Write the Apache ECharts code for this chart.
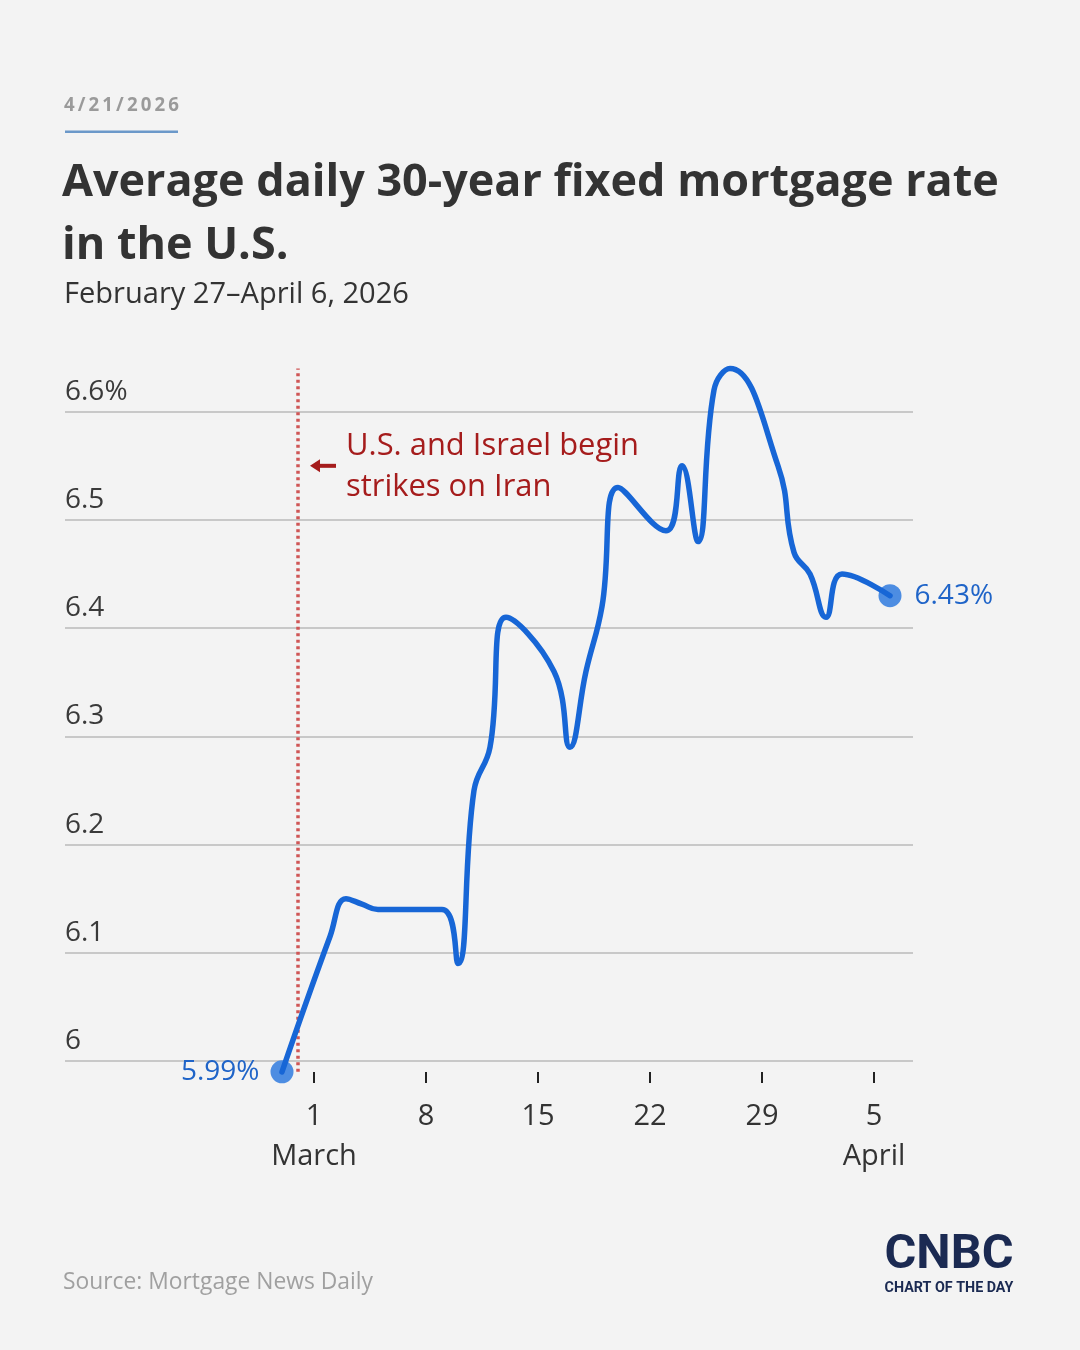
<!DOCTYPE html>
<html><head><meta charset="utf-8">
<script src="https://cdn.jsdelivr.net/npm/echarts@6/dist/echarts.min.js"></script>
<style>html,body{margin:0;padding:0;background:#f3f3f3;}#c{width:1080px;height:1350px;}</style>
</head><body><div id="c"></div>
<script>
// ---- data ----
const dates = ['2026-02-27','2026-03-02','2026-03-03','2026-03-04','2026-03-05','2026-03-06',
  '2026-03-09','2026-03-10','2026-03-11','2026-03-12','2026-03-13',
  '2026-03-16','2026-03-17','2026-03-18','2026-03-19','2026-03-20',
  '2026-03-23','2026-03-24','2026-03-25','2026-03-26','2026-03-27',
  '2026-03-30','2026-03-31','2026-04-01','2026-04-02','2026-04-03','2026-04-06'];
const rates = [5.99, 6.115, 6.15, 6.145, 6.14, 6.14,
  6.14, 6.09, 6.25, 6.29, 6.41,
  6.36, 6.29, 6.36, 6.42, 6.53,
  6.49, 6.55, 6.48, 6.62, 6.64,
  6.55, 6.47, 6.45, 6.41, 6.45, 6.43];
const tickDates = ['2026-03-01','2026-03-08','2026-03-15','2026-03-22','2026-03-29','2026-04-05'];
const tickLabels = ['1\nMarch','8','15','22','29','5\nApril'];
const eventDate = '2026-02-28';
const eventRange = [5.99, 6.64];
const eventAt = 6.55;
const eventText = 'U.S. and Israel begin\nstrikes on Iran';

// ---- helpers ----
const base = Date.UTC(2026, 2, 1);
function dayOf(s){ const p = s.split('-').map(Number); return (Date.UTC(p[0], p[1]-1, p[2]) - base) / 86400000; }
const xs = dates.map(dayOf);
const pts = xs.map((x, i) => [x, rates[i]]);
const tickX = tickDates.map(dayOf);
const labelMap = {}; tickX.forEach((x, i) => labelMap[x] = tickLabels[i]);
const evX = dayOf(eventDate);

const FONT = '"Open Sans", Lato, sans-serif';
const mctx = document.createElement('canvas').getContext('2d');
function fit(text, weight, family, target){
  mctx.font = weight + ' 100px ' + family;
  return 100 * target / mctx.measureText(text).width;
}
const BLUE = '#1766d6';
const LBLUE = '#1f64c8';
const RED = '#a51c1c';

const titleSize = fit('Average daily 30-year fixed mortgage rate', 'bold', FONT, 937);
const subSize = fit('February 27\u2013April 6, 2026', 'normal', FONT, 345);
const srcSize = fit('Source: Mortgage News Daily', 'normal', FONT, 310);
const annSize = fit('U.S. and Israel begin', 'normal', FONT, 293);
const dateText = '4\u2009/\u20092\u20091\u2009/\u20092\u20090\u20092\u20096';
const dateSize = Math.min(20, fit(dateText, 'bold', FONT, 115));
const LOGOF = '"Liberation Sans Narrow", Roboto, sans-serif';
const logoSize = fit('CNBC', 'bold', LOGOF, 129);
const codSize = fit('CHART OF THE DAY', 'bold', 'Roboto, sans-serif', 129);

const chart = echarts.init(document.getElementById('c'), null, {renderer: 'canvas'});
const last = pts.length - 1;
chart.setOption({
  backgroundColor: '#f3f3f3',
  animation: false,
  grid: {left: 65, right: 167, top: 303.5, bottom: 289, containLabel: false},
  xAxis: {
    type: 'value', min: -15.5625, max: 37.4375, offset: 11,
    axisLine: {show: false},
    splitLine: {show: false},
    axisTick: {show: true, length: 11, customValues: tickX, lineStyle: {color: '#222', width: 2}},
    axisLabel: {customValues: tickX, formatter: v => labelMap[v] || '', margin: 25,
      fontSize: 29, lineHeight: 40, color: '#333', fontFamily: FONT, verticalAlign: 'top'}
  },
  yAxis: {
    type: 'value', min: 6.0, max: 6.7, interval: 0.1,
    axisLine: {show: false}, axisTick: {show: false},
    splitLine: {show: true, lineStyle: {color: ['#c8c8c8','#c8c8c8','#c8c8c8','#c8c8c8','#c8c8c8','#c8c8c8','#c8c8c8','rgba(0,0,0,0)'], width: 2}},
    axisLabel: {inside: true, margin: 0, align: 'left', verticalAlign: 'bottom',
      padding: [0, 0, 5, 0], fontSize: 28, lineHeight: 30, color: '#3a3a3a', fontFamily: FONT,
      formatter: v => {
        const r = Math.round(v * 10) / 10;
        if (r > 6.65) return '';
        if (r === 6.6) return '6.6%';
        if (r === 6) return '6';
        return r.toFixed(1);
      }}
  },
  series: [
    {
      type: 'line', data: [[evX, eventRange[0]], [evX, eventRange[1]]], showSymbol: false, symbol: 'none',
      clip: false, z: 1, silent: true,
      lineStyle: {color: '#cf5656', type: [3, 3.5], width: 3.5}
    },
    {
      type: 'line', data: pts, smooth: 0.45, showSymbol: false, symbol: 'none',
      clip: false, z: 3,
      lineStyle: {color: BLUE, width: 5.5, cap: 'round', join: 'round'}
    },
    {
      type: 'scatter', z: 2, symbolSize: 23, clip: false,
      itemStyle: {color: '#4d8de2', opacity: 1},
      data: [
        {value: pts[0], label: {show: true, position: 'left', distance: 11, color: LBLUE, fontSize: 28, fontFamily: FONT,
          formatter: rates[0].toFixed(2) + '%'}},
        {value: pts[last], label: {show: true, position: 'right', distance: 13, color: LBLUE, fontSize: 28, fontFamily: FONT,
          formatter: rates[last].toFixed(2) + '%'}}
      ]
    }
  ],
  graphic: [
    {id: 'date', type: 'text', style: {text: dateText, x: 64, y: 106, verticalAlign: 'middle',
      fontSize: dateSize, fontWeight: 'bold', fontFamily: FONT, fill: '#9a9a9a'}},
    {id: 'uline', type: 'rect', shape: {x: 65, y: 130.5, width: 113, height: 2.5}, style: {fill: '#6b98c9'}},
    {id: 't1', type: 'text', style: {text: 'Average daily 30-year fixed mortgage rate', x: 62, y: 183, verticalAlign: 'middle',
      fontSize: titleSize, fontWeight: 'bold', fontFamily: FONT, fill: '#333333'}},
    {id: 't2', type: 'text', style: {text: 'in the U.S.', x: 62, y: 246, verticalAlign: 'middle',
      fontSize: titleSize, fontWeight: 'bold', fontFamily: FONT, fill: '#333333'}},
    {id: 'sub', type: 'text', style: {text: 'February 27\u2013April 6, 2026', x: 64, y: 295, verticalAlign: 'middle',
      fontSize: subSize, fontFamily: FONT, fill: '#333333'}},
    {id: 'src', type: 'text', style: {text: 'Source: Mortgage News Daily', x: 63, y: 1282, verticalAlign: 'middle',
      fontSize: srcSize, fontFamily: FONT, fill: '#a0a0a0'}},
    {id: 'logo', type: 'text', style: {text: 'CNBC', x: 949, y: 1256, align: 'center', verticalAlign: 'middle',
      fontSize: Math.min(logoSize, 50), fontWeight: 'bold', fontFamily: LOGOF, fill: '#1b2a52'}},
    {id: 'cod', type: 'text', style: {text: 'CHART OF THE DAY', x: 949, y: 1288, align: 'center', verticalAlign: 'middle',
      fontSize: codSize, fontWeight: 'bold', fontFamily: 'Roboto, sans-serif', fill: '#1b2a52'}}
  ]
});

// annotation anchored to data coordinates
const p = chart.convertToPixel({gridIndex: 0}, [evX, eventAt]);
chart.setOption({graphic: [
  {id: 'arrHead', type: 'polygon', shape: {points: [[p[0] + 12, p[1]], [p[0] + 22, p[1] - 6.5], [p[0] + 22, p[1] + 6.5]]}, style: {fill: RED}},
  {id: 'arrShaft', type: 'rect', shape: {x: p[0] + 20, y: p[1] - 2, width: 18, height: 4}, style: {fill: RED}},
  {id: 'ann', type: 'text', style: {text: eventText, x: p[0] + 48, y: p[1] + 1, verticalAlign: 'middle', lineHeight: 41,
    fontSize: annSize, fontFamily: FONT, fill: RED}}
]});
</script></body></html>
